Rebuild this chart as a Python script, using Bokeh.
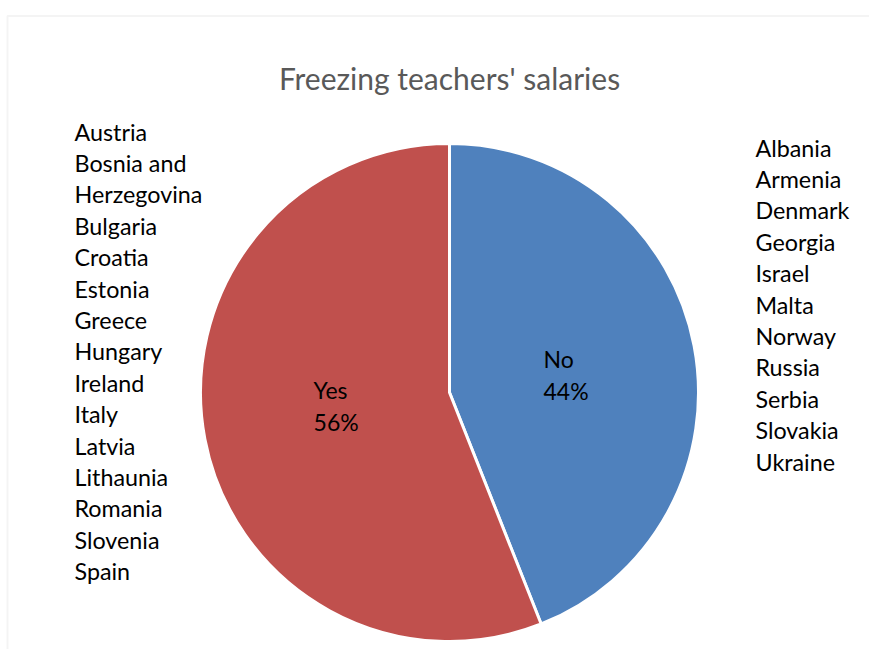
import numpy as np
from bokeh.plotting import figure
from bokeh.models import Range1d, ColumnDataSource, BoxAnnotation
from bokeh.core.properties import value
from bokeh.embed import file_html
from bokeh.resources import INLINE

# ---- data ----
title = "Freezing teachers' salaries"
categories = ["No", "Yes"]
percentages = [44, 56]
colors = ["#4F81BD", "#C0504D"]
yes_lines = ["Austria", "Bosnia and", "Herzegovina", "Bulgaria", "Croatia", "Estonia",
             "Greece", "Hungary", "Ireland", "Italy", "Latvia", "Lithaunia",
             "Romania", "Slovenia", "Spain"]
no_lines = ["Albania", "Armenia", "Denmark", "Georgia", "Israel", "Malta", "Norway",
            "Russia", "Serbia", "Slovakia", "Ukraine"]

FONT = "Lato"
W, H = 869, 649
p = figure(width=W, height=H, output_backend="svg", toolbar_location=None,
           x_range=Range1d(0, W), y_range=Range1d(-H, 0),
           x_axis_location=None, y_axis_location=None,
           min_border=0, min_border_left=0, min_border_right=0,
           min_border_top=0, min_border_bottom=0)
p.grid.visible = False
p.outline_line_color = None
p.background_fill_color = "white"
p.border_fill_color = "white"

# chart area border
p.add_layout(BoxAnnotation(left=7, right=1000, top=-15.5, bottom=-1000,
                           fill_alpha=0, line_color="#D9D9D9", line_width=2))

# pie
cx, cy, r = 449, -392, 249
frac = np.array(percentages) / sum(percentages)
ends = np.pi / 2 - 2 * np.pi * np.cumsum(frac)
starts = np.concatenate([[np.pi / 2], ends[:-1]])
src = ColumnDataSource(dict(start=starts, end=ends, color=colors, cat=categories))
p.wedge(x=cx, y=cy, radius=r, start_angle="start", end_angle="end", direction="clock",
        fill_color="color", line_color="white", line_width=3, source=src)

# slice labels
mids = (starts + ends) / 2
lx = cx + 0.47 * r * np.cos(mids) - 21
ly = cy + 0.34 * r * np.sin(mids) + 2
p.text(x=list(lx), y=list(ly + 16), text=categories, text_font=value(FONT),
       text_font_size="23px", text_align="left", text_baseline="middle", text_color="black")
p.text(x=list(lx), y=list(ly - 16), text=[f"{v}%" for v in percentages], text_font=value(FONT),
       text_font_size="23px", text_align="left", text_baseline="middle", text_color="black")

# title
p.text(x=[449], y=[-77], text=[title], text_font=value(FONT), text_font_size="30px",
       text_align="center", text_baseline="middle", text_color="#595959")

# country lists
step = 31.4
p.text(x=[74] * len(yes_lines), y=[-131 - i * step for i in range(len(yes_lines))],
       text=yes_lines, text_font=value(FONT), text_font_size="23.3px",
       text_align="left", text_baseline="middle", text_color="black")
p.text(x=[755] * len(no_lines), y=[-147 - i * step for i in range(len(no_lines))],
       text=no_lines, text_font=value(FONT), text_font_size="23.3px",
       text_align="left", text_baseline="middle", text_color="black")

open("out.html", "w").write(file_html(p, INLINE))
